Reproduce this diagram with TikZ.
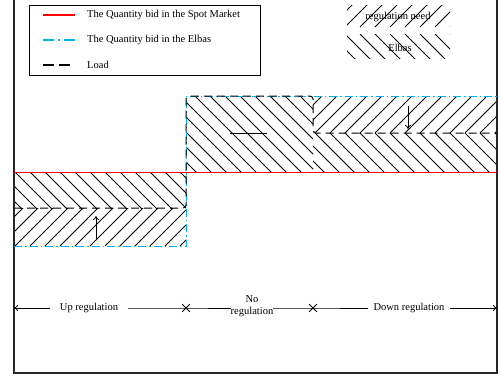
\documentclass[tikz,border=0pt]{standalone}
\usepackage{fontspec}
\setmainfont{Liberation Serif}
\usetikzlibrary{arrows.meta,shapes.misc}
\definecolor{cyanbid}{RGB}{0,176,240}
\newcommand\myhatchA[4]{\begin{scope}\clip (#1,#2) rectangle (#3,#4);
  \foreach \i in {-420,-405,...,520} \draw[hatch] (\i,#2) -- ++(220,220);\end{scope}}
\newcommand\myhatchB[4]{\begin{scope}\clip (#1,#2) rectangle (#3,#4);
  \foreach \i in {-420,-405,...,520} \draw[hatch] (\i,#4) -- ++(220,-220);\end{scope}}
\begin{document}
\begin{tikzpicture}[x=1pt,y=-1pt,
  frame/.style={line width=1.1pt,black!85},
  spot/.style={red,line width=0.7pt},
  elbas/.style={color=cyanbid,line width=1pt,dash pattern=on 8pt off 3pt on 1.5pt off 3pt},
  load/.style={black,line width=1pt,dash pattern=on 8pt off 5pt},
  hatch/.style={black,line width=0.8pt},
  lbl/.style={font=\fontsize{10.5}{12.5}\selectfont,inner sep=0pt},
  xmark/.style={cross out,draw,line width=0.8pt,minimum size=7pt,inner sep=0pt},
  arr/.style={-{To[length=4pt,width=6pt]},line width=0.8pt}]
\useasboundingbox (0,0) rectangle (501,380);
% hatched areas
\myhatchA{14}{172}{186}{208}
\myhatchB{14}{208}{186}{246}
\myhatchA{186}{96}{313}{172}
\myhatchB{313}{96}{497}{133}
\myhatchA{313}{133}{497}{172}
% legend hatches
\myhatchB{347}{5}{450}{27}
\myhatchA{347}{34}{450}{58}
\node[lbl] (lrn) at (398,17) {regulation need};
\node[lbl] (lel) at (400,48) {Elbas};
% frame
\draw[frame] (14,0) -- (14,373) -- (497,373) -- (497,0);
% curves
\coordinate (sL) at (14,172); \coordinate (sR) at (497,172);
\draw[spot] (sL) -- (sR);
\coordinate (eA) at (14,246); \coordinate (eB) at (186,246);
\coordinate (eC) at (186,96); \coordinate (eD) at (497,96);
\draw[elbas] (eA) -- (eB) -- (eC) -- (eD);
\coordinate (lA) at (14,208); \coordinate (lB) at (186,208);
\coordinate (lC) at (186,96); \coordinate (lD) at (313,96);
\coordinate (lE) at (313,133); \coordinate (lF) at (497,133);
\draw[load,rounded corners=3pt] (lA) -- (lB) -- (lC) -- (lD) -- (lE) -- (lF);
\coordinate (sgA) at (230,133); \coordinate (sgB) at (267,133);
\draw[line width=1pt] (sgA) -- (sgB);
% arrows
\coordinate (uA) at (96,240); \coordinate (uB) at (96,216);
\draw[arr] (uA) -- (uB);
\coordinate (dA) at (408,106); \coordinate (dB) at (408,129);
\draw[arr] (dA) -- (dB);
% legend
\draw[line width=0.8pt] (29,5) rectangle (260,75);
\coordinate (r1) at (43,15); \coordinate (r2) at (75,15);
\draw[red,line width=1.3pt] (r1) -- (r2);
\coordinate (b1) at (43,40); \coordinate (b2) at (75,40);
\draw[cyanbid,line width=1.3pt,dash pattern=on 11pt off 4pt on 2pt off 4pt] (b1) -- (b2);
\coordinate (k1) at (43,65); \coordinate (k2) at (75,65);
\draw[black,line width=1.6pt,dash pattern=on 11pt off 5pt] (k1) -- (k2);
\node[lbl,anchor=west] (t1) at (87,15) {The Quantity bid in the Spot Market};
\node[lbl,anchor=west] (t2) at (87,40) {The Quantity bid in the Elbas};
\node[lbl,anchor=west] (t3) at (87,65) {Load};
% axis
\node[lbl,inner xsep=10pt] (up) at (89,308) {Up regulation};
\node[lbl,align=center] (noreg) at (252,306) {No\\regulation};
\node[lbl,inner xsep=5pt] (down) at (409,308) {Down regulation};
\coordinate (axL) at (14,308); \coordinate (axR) at (497,308);
\node[xmark] (x1) at (186,308) {};
\node[xmark] (x2) at (313,308) {};
\draw[arr] (up.west) -- (axL);
\draw[line width=0.8pt] (up.east) -- (x1.center) -- (noreg.west |- x1);
\draw[line width=0.8pt] (noreg.east |- x2) -- (x2.center) -- (down.west);
\draw[arr] (down.east) -- (axR);
\end{tikzpicture}
\end{document}
